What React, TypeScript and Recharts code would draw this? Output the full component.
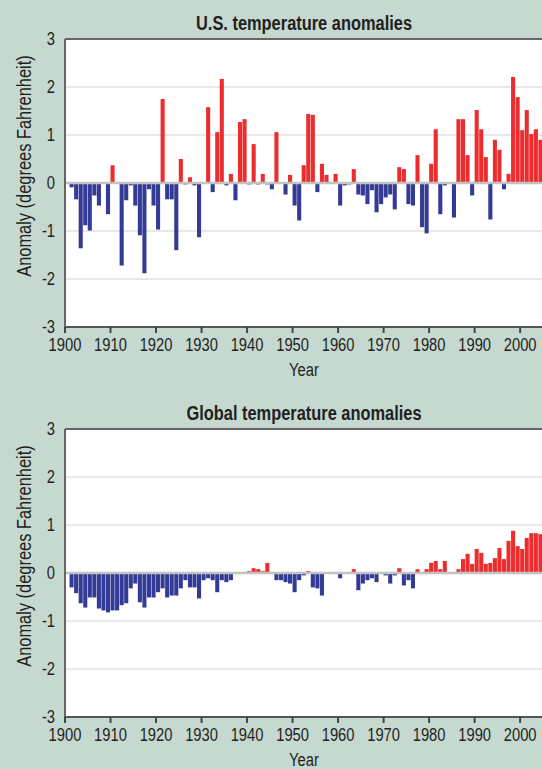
import {Bar, BarChart, CartesianGrid, Cell, ReferenceLine, XAxis, YAxis} from "recharts";

const firstYear = 1901;

// values, degrees F, 1901..2004
const usAnomalies = [
    -0.09, -0.34, -1.36, -0.88, -0.99, -0.26, -0.47, -0.02, -0.65, 0.37,
    0.02, -1.72, -0.36, -0.05, -0.47, -1.09, -1.88, -0.13, -0.47, -0.97,
    1.75, -0.34, -0.34, -1.4, 0.5, -0.03, 0.12, -0.05, -1.13, 0.02,
    1.58, -0.19, 1.06, 2.17, -0.05, 0.19, -0.36, 1.27, 1.33, -0.03,
    0.81, -0.03, 0.19, -0.03, -0.13, 1.06, 0.02, -0.24, 0.17, -0.47,
    -0.78, 0.37, 1.44, 1.42, -0.19, 0.4, 0.17, 0.0, 0.19, -0.47,
    -0.05, -0.03, 0.29, -0.24, -0.26, -0.44, -0.15, -0.61, -0.44, -0.3,
    -0.24, -0.55, 0.33, 0.29, -0.44, -0.47, 0.58, -0.92, -1.05, 0.4,
    1.12, -0.65, -0.05, 0.02, -0.72, 1.33, 1.33, 0.58, -0.26, 1.52,
    1.12, 0.54, -0.76, 0.9, 0.69, -0.13, 0.19, 2.21, 1.79, 1.1,
    1.52, 1.02, 1.12, 0.9,
];

const globalAnomalies = [
    -0.3, -0.42, -0.63, -0.72, -0.51, -0.51, -0.74, -0.78, -0.82, -0.78,
    -0.78, -0.67, -0.63, -0.32, -0.22, -0.61, -0.72, -0.51, -0.51, -0.4,
    -0.32, -0.51, -0.47, -0.47, -0.32, -0.15, -0.3, -0.3, -0.53, -0.15,
    -0.11, -0.15, -0.4, -0.15, -0.19, -0.15, -0.02, 0.02, 0.01, 0.04,
    0.1, 0.08, 0.04, 0.21, -0.01, -0.15, -0.15, -0.19, -0.22, -0.4,
    -0.15, -0.05, 0.04, -0.3, -0.32, -0.47, -0.01, 0.01, 0.0, -0.11,
    0.01, 0.0, 0.08, -0.36, -0.22, -0.15, -0.11, -0.19, -0.01, -0.05,
    -0.22, -0.05, 0.1, -0.26, -0.15, -0.32, 0.08, -0.01, 0.08, 0.21,
    0.25, 0.08, 0.25, -0.01, -0.01, 0.08, 0.29, 0.4, 0.19, 0.5,
    0.42, 0.19, 0.21, 0.31, 0.52, 0.29, 0.67, 0.88, 0.56, 0.5,
    0.73, 0.83, 0.83, 0.81,
];

const yearTicks = [1900, 1910, 1920, 1930, 1940, 1950, 1960, 1970, 1980, 1990, 2000];
const anomalyTicks = [-3, -2, -1, 0, 1, 2, 3];

const RED = "#ec2d2f";
const BLUE = "#343b97";
const INK = "#231f20";
const FONT = "'Liberation Sans', Arial, sans-serif";
const NARROW = 0.82; // the original uses a condensed face

const YearTick = ({x, y, payload}: any) => (
    <text transform={`translate(${x},${y}) scale(${NARROW},1)`} textAnchor="middle" dy="0.71em"
          fontFamily={FONT} fontSize={18} fill={INK}>
        {payload.value}
    </text>
);

const AnomalyTick = ({x, y, payload}: any) => (
    <text transform={`translate(${x},${y}) scale(${NARROW},1)`} textAnchor="end" dy="0.355em"
          fontFamily={FONT} fontSize={18} fill={INK}>
        {payload.value}
    </text>
);

const toRows = (values: number[]) =>
    values.map((v, i) => ({year: firstYear + i, anomaly: v}));

const Panel = ({title, values, top}: { title: string, values: number[], top: number }) => {
    const rows = toRows(values);
    return (
        <div style={{position: "absolute", left: 0, top: top, width: 542, height: 390}}>
            <div style={{
                position: "absolute", left: 104, top: 11, width: 400, height: 24, lineHeight: "24px",
                textAlign: "center", fontFamily: FONT, fontWeight: "bold", fontSize: 20, color: INK,
                transform: `scaleX(${NARROW})`, whiteSpace: "nowrap",
            }}>
                {title}
            </div>
            <div style={{
                position: "absolute", left: 24, top: 166, lineHeight: "20px", whiteSpace: "nowrap",
                transform: `translate(-50%, -50%) rotate(-90deg) scaleX(${NARROW})`,
                fontFamily: FONT, fontSize: 20, color: INK,
            }}>
                Anomaly (degrees Fahrenheit)
            </div>
            <BarChart
                width={542}
                height={380}
                data={rows}
                margin={{top: 39, right: 0, bottom: 0, left: 0}}
                barCategoryGap={0}
                barGap={0}
            >
                <CartesianGrid vertical={false} stroke="#e8e8e8" strokeWidth={2} fill="#ffffff"/>
                <XAxis
                    type="number"
                    dataKey={(d: any) => d.year + 0.5}
                    domain={[1900, 2004.8]}
                    allowDataOverflow={true}
                    ticks={yearTicks}
                    interval={0}
                    height={53}
                    tickSize={6}
                    tickMargin={5}
                    tick={<YearTick/>}
                    tickLine={{stroke: "#444", strokeWidth: 2}}
                    axisLine={{stroke: "#555", strokeWidth: 2}}
                />
                <YAxis
                    type="number"
                    domain={[-3, 3]}
                    ticks={anomalyTicks}
                    interval={0}
                    width={65}
                    tickSize={6}
                    tickMargin={4}
                    tickLine={false}
                    tick={<AnomalyTick/>}
                    axisLine={{stroke: "#666", strokeWidth: 2}}
                />
                <Bar dataKey="anomaly" barSize={4.7} isAnimationActive={false}>
                    {rows.map((r) => (
                        <Cell key={r.year} fill={r.anomaly >= 0 ? RED : BLUE}/>
                    ))}
                </Bar>
                <ReferenceLine y={0} stroke="#c4c2c0" strokeWidth={2.5}/>
                <ReferenceLine y={3} stroke="#666" strokeWidth={2}/>
            </BarChart>
            <div style={{
                position: "absolute", left: 254, top: 360, width: 100, height: 20, lineHeight: "20px",
                textAlign: "center", fontFamily: FONT, fontSize: 18, color: INK,
                transform: `scaleX(${NARROW})`,
            }}>
                Year
            </div>
        </div>
    );
};

const App = () => {
    return (
        <div style={{
            position: "absolute", left: 0, top: 0, width: 542, height: 769,
            overflow: "hidden", background: "#c6d9d0",
        }}>
            <Panel title="U.S. temperature anomalies" values={usAnomalies} top={0}/>
            <Panel title="Global temperature anomalies" values={globalAnomalies} top={390}/>
        </div>
    );
};

export default App;
